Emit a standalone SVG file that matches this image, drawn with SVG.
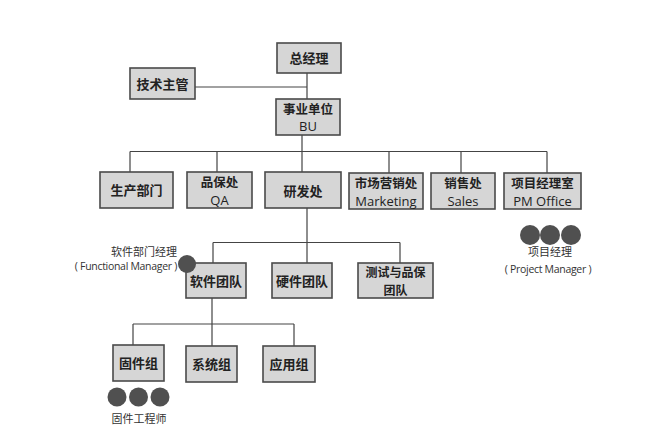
<svg xmlns="http://www.w3.org/2000/svg" width="660" height="448" viewBox="0 0 660 448">
<style>
.box{fill:#d6d6d6;stroke:#4a4a4a;stroke-width:1.6}
.zh{font-family:"Noto Sans CJK SC","Noto Sans",sans-serif;font-weight:bold;font-size:13px;fill:#222;text-anchor:middle}
.z2{font-size:12.5px}
.en{font-family:"Open Sans","Noto Sans",sans-serif;font-size:13px;fill:#222;text-anchor:middle}
.lbl{font-family:"Noto Sans CJK SC","Noto Sans",sans-serif;font-size:11px;fill:#333}
.lbe{font-family:"Open Sans","Noto Sans",sans-serif;font-size:10.5px;fill:#333;letter-spacing:-0.3px}
.dot{fill:#505050}
.ln{stroke:#444;stroke-width:1.2;fill:none}
</style>
<rect width="660" height="448" fill="#fff"/>
<g id="connectors" class="ln">
<path d="M307 73V99M195 87H307"/>
<path d="M302 135V151.5M130 151.5H547M130 151.5V172M217 151.5V172M302 151.5V172M389 151.5V173M461 151.5V173M547 151.5V173"/>
<path d="M307 208V242.5M213 242.5H400M213 242.5V263M307 242.5V263M400 242.5V263"/>
<path d="M212 298V324M133 324H294M133 324V345M212 324V346M294 324V346"/>
</g>
<g id="n-zjl"><rect class="box" x="277" y="43" width="64" height="30"/><text class="zh" x="309" y="63">总经理</text></g>
<g id="n-jszg"><rect class="box" x="130" y="68" width="65" height="31"/><text class="zh" x="162.5" y="88.5">技术主管</text></g>
<g id="n-bu"><rect class="box" x="276" y="99" width="64" height="36"/><text class="zh z2" x="308" y="113.5">事业单位</text><text class="en" x="308" y="131">BU</text></g>
<g id="n-scbm"><rect class="box" x="100" y="172" width="73" height="36"/><text class="zh" x="136.5" y="195">生产部门</text></g>
<g id="n-qa"><rect class="box" x="187" y="172" width="65" height="36"/><text class="zh z2" x="219.5" y="186.5">品保处</text><text class="en" x="219.5" y="205">QA</text></g>
<g id="n-yfc"><rect class="box" x="265" y="172" width="76" height="36"/><text class="zh" x="303" y="196">研发处</text></g>
<g id="n-mkt"><rect class="box" x="349" y="173" width="74" height="36"/><text class="zh z2" x="386" y="187.5">市场营销处</text><text class="en" x="386" y="206">Marketing</text></g>
<g id="n-sales"><rect class="box" x="431" y="173" width="64" height="36"/><text class="zh z2" x="463" y="187.5">销售处</text><text class="en" x="463" y="206">Sales</text></g>
<g id="n-pmo"><rect class="box" x="504" y="173" width="77" height="36"/><text class="zh z2" x="542.5" y="187.5">项目经理室</text><text class="en" x="542.5" y="206">PM Office</text></g>
<g id="n-rj"><rect class="box" x="186" y="263" width="60" height="35"/><text class="zh" x="216" y="286">软件团队</text></g>
<g id="n-yj"><rect class="box" x="272" y="263" width="60" height="35"/><text class="zh" x="302" y="286">硬件团队</text></g>
<g id="n-cs"><rect class="box" x="358" y="263" width="75" height="35"/><text class="zh" x="395.5" y="277" style="font-size:12px">测试与品保</text><text class="zh" x="395.5" y="294.5" style="font-size:12px">团队</text></g>
<g id="n-gj"><rect class="box" x="113" y="345" width="51" height="36"/><text class="zh" x="138.5" y="368">固件组</text></g>
<g id="n-xt"><rect class="box" x="186" y="346" width="51" height="36"/><text class="zh" x="211.5" y="369">系统组</text></g>
<g id="n-yy"><rect class="box" x="263" y="346" width="52" height="36"/><text class="zh" x="289" y="369">应用组</text></g>
<g id="fm"><circle class="dot" cx="187" cy="264" r="9"/><text class="lbl" x="177" y="256" text-anchor="end">软件部门经理</text><text class="lbe" x="177" y="270" text-anchor="end">( Functional Manager )</text></g>
<g id="pm"><circle class="dot" cx="530" cy="235" r="10"/><circle class="dot" cx="550" cy="235" r="10"/><circle class="dot" cx="571" cy="235" r="10"/><text class="lbl" x="550" y="256" text-anchor="middle">项目经理</text><text class="lbe" x="548" y="272.5" text-anchor="middle">( Project Manager )</text></g>
<g id="fe"><circle class="dot" cx="117" cy="397" r="9.5"/><circle class="dot" cx="138.5" cy="397" r="9.5"/><circle class="dot" cx="160" cy="397" r="9.5"/><text class="lbl" x="139" y="423" text-anchor="middle">固件工程师</text></g>
</svg>
